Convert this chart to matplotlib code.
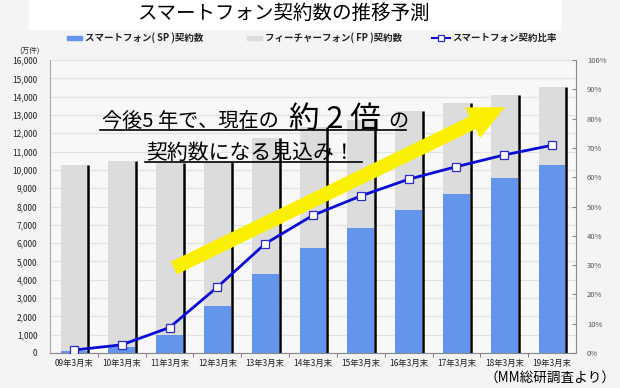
import numpy as np
import matplotlib
matplotlib.use('Agg')
import matplotlib.pyplot as plt
from matplotlib.patches import Polygon, Rectangle
from matplotlib.lines import Line2D
from matplotlib.ticker import FuncFormatter, PercentFormatter

plt.rcParams['font.family'] = ['Noto Sans CJK JP', 'DejaVu Sans']

# data (万件 / ratio)
months = ['09年3月末', '10年3月末', '11年3月末', '12年3月末', '13年3月末', '14年3月末',
          '15年3月末', '16年3月末', '17年3月末', '18年3月末', '19年3月末']
total = [10270, 10500, 10380, 10440, 11750, 12350, 12750, 13220, 13640, 14090, 14510]
sp = [100, 330, 960, 2540, 4330, 5730, 6820, 7820, 8690, 9580, 10290]
ratio = [0.010, 0.028, 0.087, 0.225, 0.373, 0.470, 0.536, 0.593, 0.636, 0.676, 0.709]
legend_labels = ['スマートフォン( SP )契約数', 'フィーチャーフォン( FP )契約数', 'スマートフォン契約比率']

W, H = 620, 388
SP_COLOR = '#6495ed'
FP_COLOR = '#dcdcdc'
LINE_COLOR = '#0a0ad8'


def fx(x):
    return x / W


def fy(y):
    return 1 - y / H


fig = plt.figure(figsize=(W / 100, H / 100), dpi=100, facecolor='#f4f4f4')

# white box behind the title
fig.patches.append(Rectangle((fx(29), fy(29)), fx(560) - fx(29), fy(0) - fy(29),
                             transform=fig.transFigure, color='white', zorder=0))

ax = fig.add_axes([fx(50), fy(353), fx(576) - fx(50), fy(60) - fy(353)])
ax.set_facecolor('#f8f8f8')

x = np.arange(len(months))
bw = 0.56
ax.bar(x, total, width=bw, color=FP_COLOR, zorder=2)
ax.bar(x, sp, width=bw, color=SP_COLOR, zorder=3)
ax.vlines(x + bw / 2 + 0.02, 0, total, color='black', lw=1.8, zorder=4)

ax.set_xlim(-0.5, len(months) - 0.5)
ax.set_ylim(0, 16000)
ax.set_yticks(np.arange(0, 16001, 1000))
ax.yaxis.set_major_formatter(FuncFormatter(lambda v, p: f'{int(v):,}'))
ax.grid(axis='y', color='#e2e2e2', lw=0.9, zorder=0)
ax.set_axisbelow(True)

ax.set_xticks(x)
ax.set_xticklabels(months, fontsize=6, color='#222222')
ax.set_xticks(x[:-1] + 0.5, minor=True)
ax.tick_params(axis='x', which='major', length=0, pad=4)
ax.tick_params(axis='x', which='minor', length=3, color='#666666', direction='out')
ax.tick_params(axis='y', length=0, pad=9, labelsize=6, labelcolor='#222222')
for s in ['top', 'right']:
    ax.spines[s].set_visible(False)
ax.spines['left'].set_color('#aaaaaa')
ax.spines['bottom'].set_color('#888888')

ax2 = ax.twinx()
ax2.plot(x, ratio, color=LINE_COLOR, lw=2, marker='s', ms=5.5,
         mfc='white', mec='#2a2ac8', mew=0.9, zorder=5)
ax2.set_ylim(0, 1)
ax2.set_yticks(np.arange(0, 1.01, 0.1))
ax2.yaxis.set_major_formatter(PercentFormatter(1, decimals=0))
ax2.tick_params(axis='y', direction='in', length=3, color='#888888',
                labelsize=5.5, labelcolor='#555555', pad=8)
for s in ['top', 'left', 'bottom']:
    ax2.spines[s].set_visible(False)
ax2.spines['right'].set_color('#888888')

# legend across the top, laid out by hand
fig.patches.append(Rectangle((fx(67), fy(40)), fx(15), 4 / H, transform=fig.transFigure,
                             color=SP_COLOR))
fig.patches.append(Rectangle((fx(247), fy(40)), fx(15), 4 / H, transform=fig.transFigure,
                             color=FP_COLOR))
fig.lines.append(Line2D([fx(432), fx(450)], [fy(38), fy(38)], color=LINE_COLOR, lw=1.5,
                        transform=fig.transFigure))
fig.lines.append(Line2D([fx(441)], [fy(38)], marker='s', ms=5, mfc='white', mec='#2a2ac8',
                        mew=0.9, transform=fig.transFigure))
for lx, lab in zip([85, 265, 452], legend_labels):
    fig.text(fx(lx), fy(38), lab, fontsize=6.8, fontweight='bold', ha='left', va='center',
             color='#222222')

fig.text(fx(283), fy(13), 'スマートフォン契約数の推移予測', fontsize=14,
         ha='center', va='center', color='black')
fig.text(fx(29), fy(51), '(万件)', fontsize=5.5, ha='center', va='center', color='#333333')
fig.text(fx(615), fy(378), '（MM総研調査より）', fontsize=9.8, ha='right', va='center')

# yellow arrow
S = np.array([174.0, 268.0])
T = np.array([505.0, 107.0])
d = (T - S) / np.linalg.norm(T - S)
n = np.array([-d[1], d[0]])
B = T - d * 36
pts = [S + n * 7, B + n * 7, B + n * 17, T, B - n * 17, B - n * 7, S - n * 7]
pts = [(fx(p[0]), fy(p[1])) for p in pts]
fig.patches.append(Polygon(pts, closed=True, transform=fig.transFigure,
                           facecolor='#fbf000', edgecolor='none', zorder=3))

# callout text
fig.text(fx(102), fy(127), '今後5 年で、現在の', fontsize=14.5, va='baseline', zorder=4)
fig.text(fx(289), fy(128), '約 2 倍', fontsize=22, va='baseline', zorder=4)
fig.text(fx(388), fy(127), 'の', fontsize=14.5, va='baseline', zorder=4)
fig.text(fx(146), fy(159), '契約数になる見込み！', fontsize=15, va='baseline', zorder=4)
fig.lines.append(Line2D([fx(100), fx(406)], [fy(130), fy(130)], color='black', lw=1.2,
                        transform=fig.transFigure, zorder=4))
fig.lines.append(Line2D([fx(145), fx(362)], [fy(161.5), fy(161.5)], color='black', lw=1.2,
                        transform=fig.transFigure, zorder=4))

fig.savefig('out.png', dpi=100, facecolor=fig.get_facecolor())
